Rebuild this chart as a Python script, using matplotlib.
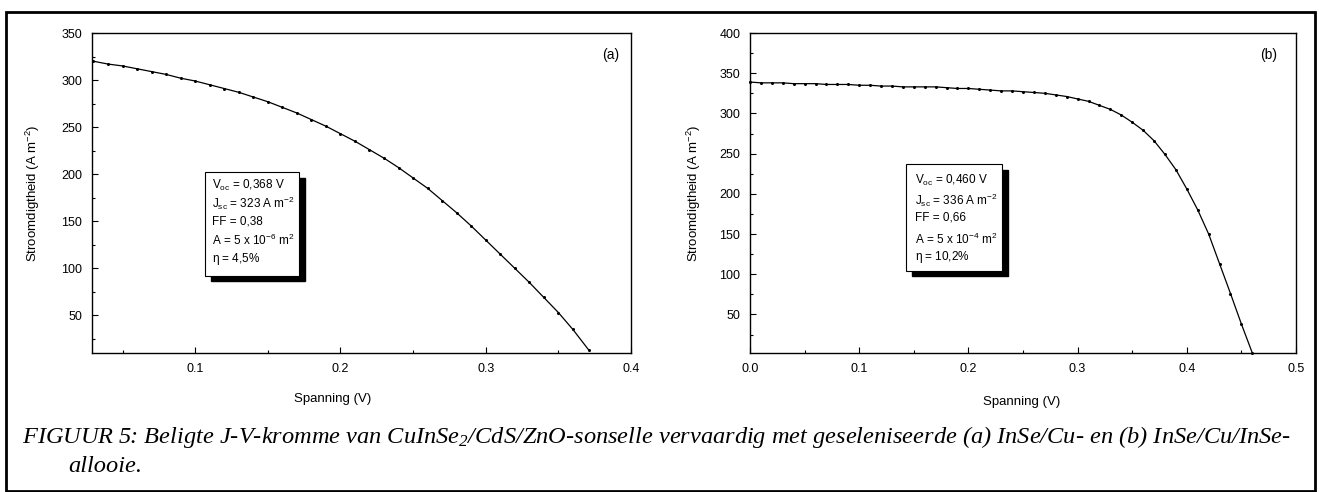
import matplotlib
matplotlib.use("Agg")
import matplotlib.pyplot as plt
from matplotlib.patches import Rectangle
from matplotlib.ticker import MultipleLocator

plt.rcParams['font.family'] = ['Liberation Sans', 'DejaVu Sans']
plt.rcParams['mathtext.default'] = 'regular'

# ---- data ----
voltage_a = [0.030, 0.040, 0.050, 0.060, 0.070, 0.080, 0.090, 0.100, 0.110, 0.120,
             0.130, 0.140, 0.150, 0.160, 0.170, 0.180, 0.190, 0.200, 0.210, 0.220,
             0.230, 0.240, 0.250, 0.260, 0.270, 0.280, 0.290, 0.300, 0.310, 0.320,
             0.330, 0.340, 0.350, 0.360, 0.371]
current_a = [320, 317, 315, 312, 309, 306, 302, 299, 295, 291,
             287, 282, 277, 271, 265, 258, 251, 243, 235, 226,
             217, 207, 196, 185, 172, 159, 145, 130, 115, 100,
             85, 69, 53, 35, 13]

voltage_b = [0.000, 0.010, 0.020, 0.030, 0.040, 0.050, 0.060, 0.070, 0.080, 0.090,
             0.100, 0.110, 0.120, 0.130, 0.140, 0.150, 0.160, 0.170, 0.180, 0.190,
             0.200, 0.210, 0.220, 0.230, 0.240, 0.250, 0.260, 0.270, 0.280, 0.290,
             0.300, 0.310, 0.320, 0.330, 0.340, 0.350, 0.360, 0.370, 0.380, 0.390,
             0.400, 0.410, 0.420, 0.430, 0.440, 0.450, 0.460]
current_b = [339, 338, 338, 338, 337, 337, 337, 336, 336, 336,
             335, 335, 334, 334, 333, 333, 333, 333, 332, 331,
             331, 330, 329, 328, 328, 327, 326, 325, 323, 321,
             318, 315, 310, 305, 298, 289, 279, 266, 249, 230,
             206, 180, 150, 113, 76, 38, 2]

xticks_a = [0.1, 0.2, 0.3, 0.4]
xticklabels_a = ['0.1', '0.2', '0.3', '0.4']
yticks_a = [50, 100, 150, 200, 250, 300, 350]
xticks_b = [0.0, 0.1, 0.2, 0.3, 0.4, 0.5]
xticklabels_b = ['0.0', '0.1', '0.2', '0.3', '0.4', '0.5']
yticks_b = [50, 100, 150, 200, 250, 300, 350, 400]

info_a = [r"V$_{oc}$ = 0,368 V", r"J$_{sc}$ = 323 A m$^{-2}$", "FF = 0,38",
          r"A = 5 x 10$^{-6}$ m$^{2}$", r"$\eta$ = 4,5%"]
info_b = [r"V$_{oc}$ = 0,460 V", r"J$_{sc}$ = 336 A m$^{-2}$", "FF = 0,66",
          r"A = 5 x 10$^{-4}$ m$^{2}$", r"$\eta$ = 10,2%"]

caption_1 = ("FIGUUR 5: Beligte J-V-kromme van CuInSe$_2$/CdS/ZnO-sonselle vervaardig met "
             "geseleniseerde (a) InSe/Cu- en (b) InSe/Cu/InSe-")
caption_2 = "allooie."

W, H = 1320, 492
fig = plt.figure(figsize=(W / 100, H / 100), dpi=100)


def fx(px):
    return px / W


def fy(py):
    return 1 - py / H


# outer frame
fig.patches.append(Rectangle((fx(6), fy(491)), fx(1315) - fx(6), fy(12) - fy(491),
                             transform=fig.transFigure, fill=False, edgecolor='black',
                             linewidth=2.0))


def make_axes(x0, x1, ytop, ybot):
    return fig.add_axes([fx(x0), fy(ybot), fx(x1) - fx(x0), fy(ytop) - fy(ybot)])


ax_a = make_axes(92, 631, 33, 353)
ax_b = make_axes(750, 1296, 33, 353)


def style(ax, xlim, ylim, xticks, xlabels, yticks, xminor, yminor):
    ax.set_xlim(*xlim)
    ax.set_ylim(*ylim)
    ax.set_xticks(xticks)
    ax.set_xticklabels(xlabels)
    ax.set_yticks(yticks)
    ax.xaxis.set_minor_locator(MultipleLocator(xminor))
    ax.yaxis.set_minor_locator(MultipleLocator(yminor))
    ax.tick_params(which='both', direction='in', top=False, right=False,
                   labelsize=9, width=0.8)
    ax.tick_params(which='major', length=4, pad=7)
    ax.tick_params(which='minor', length=2)
    for s in ax.spines.values():
        s.set_linewidth(1.0)
    ax.set_xlabel("Spanning (V)", fontsize=9.5)
    ax.set_ylabel(r"Stroomdigtheid (A m$^{-2}$)", fontsize=9.5)


style(ax_a, (0.029, 0.4), (10, 350), xticks_a, xticklabels_a, yticks_a, 0.05, 25)
style(ax_b, (0.0, 0.5), (2, 400), xticks_b, xticklabels_b, yticks_b, 0.05, 25)
ax_a.xaxis.set_label_coords(0.446, -0.125)
ax_a.yaxis.set_label_coords(-0.092, 0.5)
ax_b.xaxis.set_label_coords(0.498, -0.135)
ax_b.yaxis.set_label_coords(-0.086, 0.5)

for ax, v, j in ((ax_a, voltage_a, current_a), (ax_b, voltage_b, current_b)):
    ax.plot(v, j, color='black', linewidth=0.9, marker='o', markersize=1.2,
            clip_on=False)

ax_a.text(0.978, 0.93, "(a)", transform=ax_a.transAxes, ha='right', va='center',
          fontsize=10)
ax_b.text(0.966, 0.93, "(b)", transform=ax_b.transAxes, ha='right', va='center',
          fontsize=10)


def info_box(x0, y0, x1, y1, tx, ys, lines):
    fig.patches.append(Rectangle((fx(x0 + 6), fy(y1 + 5)), fx(x1) - fx(x0),
                                 fy(y0 + 6) - fy(y1 + 5),
                                 transform=fig.transFigure, facecolor='black',
                                 edgecolor='black', zorder=5))
    fig.patches.append(Rectangle((fx(x0), fy(y1)), fx(x1) - fx(x0), fy(y0) - fy(y1),
                                 transform=fig.transFigure, facecolor='white',
                                 edgecolor='black', linewidth=0.8, zorder=6))
    for y, s in zip(ys, lines):
        fig.text(fx(tx), fy(y), s, fontsize=8.5, ha='left', va='center', zorder=7)


info_box(205, 172, 299, 276, 212, [185, 203, 221, 240, 259], info_a)
info_box(906, 164, 1002, 271, 915, [180, 200, 218, 239, 257], info_b)

fig.text(fx(22), fy(437), caption_1, fontsize=17.6, style='italic',
         family=['Liberation Serif', 'DejaVu Serif'], ha='left', va='center')
fig.text(fx(68), fy(466), caption_2, fontsize=17.6, style='italic',
         family=['Liberation Serif', 'DejaVu Serif'], ha='left', va='center')

fig.savefig("out.png", dpi=100)
